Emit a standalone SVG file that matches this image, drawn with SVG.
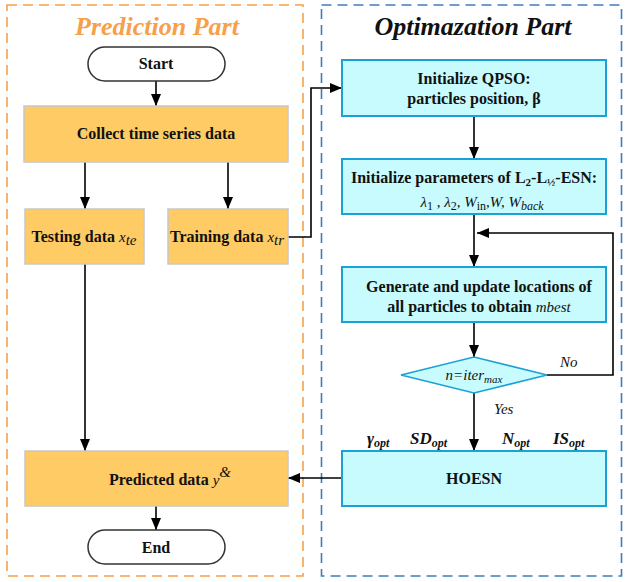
<svg xmlns="http://www.w3.org/2000/svg" width="627" height="582" viewBox="0 0 627 582">
  <defs>
    <marker id="arrow" viewBox="0 0 12 10" refX="12" refY="5" markerWidth="12" markerHeight="10" markerUnits="userSpaceOnUse" orient="auto">
      <path d="M0,0 L12,5 L0,10 Z" fill="#000"/>
    </marker>
    <style>
      .t { font-family: "Liberation Serif", "Times New Roman", serif; font-size: 16px; font-weight: bold; fill: #111; text-anchor: middle; }
      .m { font-family: "Liberation Serif", "Times New Roman", serif; font-size: 15px; font-style: italic; font-weight: normal; fill: #111; }
      .mb { font-family: "Liberation Serif", "Times New Roman", serif; font-size: 17px; font-style: italic; font-weight: bold; fill: #111; }
      .title { font-family: "Liberation Serif", "Times New Roman", serif; font-size: 26px; font-weight: bold; font-style: italic; text-anchor: middle; }
      .term { fill: #fff; stroke: #333; stroke-width: 1.5; }
      .orange { fill: #FECB65; stroke: #C8C8C8; stroke-width: 1.5; }
      .cyan { fill: #C8FBFD; stroke: #1BA1D4; stroke-width: 2; }
      .edge { fill: none; stroke: #000; stroke-width: 1.6; }
    </style>
  </defs>

  <!-- section frames -->
  <g id="frames">
    <rect x="7" y="5" width="296" height="571" fill="none" stroke="#F7A04A" stroke-width="1.6" stroke-dasharray="10 6"/>
    <rect x="321.5" y="5" width="300" height="571" fill="none" stroke="#3D7DBD" stroke-width="1.6" stroke-dasharray="10 6"/>
    <text class="title" x="157" y="35" fill="#F7A04A">Prediction Part</text>
    <text class="title" x="473" y="35" fill="#111">Optimazation Part</text>
  </g>

  <!-- connectors -->
  <g id="connectors">
    <line class="edge" x1="156" y1="81" x2="156" y2="106" marker-end="url(#arrow)"/>
    <line class="edge" x1="85" y1="162" x2="85" y2="209" marker-end="url(#arrow)"/>
    <line class="edge" x1="228" y1="162" x2="228" y2="209" marker-end="url(#arrow)"/>
    <polyline class="edge" points="288,237 311,237 311,88 342,88" marker-end="url(#arrow)"/>
    <line class="edge" x1="474" y1="116" x2="474" y2="159" marker-end="url(#arrow)"/>
    <line class="edge" x1="474" y1="214" x2="474" y2="267" marker-end="url(#arrow)"/>
    <line class="edge" x1="474" y1="322" x2="474" y2="357" marker-end="url(#arrow)"/>
    <polyline class="edge" points="547,375 613,375 613,233 477,233" marker-end="url(#arrow)"/>
    <line class="edge" x1="474" y1="393" x2="474" y2="451" marker-end="url(#arrow)"/>
    <line class="edge" x1="342" y1="478" x2="288" y2="478" marker-end="url(#arrow)"/>
    <line class="edge" x1="85" y1="264" x2="85" y2="451" marker-end="url(#arrow)"/>
    <line class="edge" x1="156" y1="506" x2="156" y2="530" marker-end="url(#arrow)"/>
    <text class="m" x="560" y="367" font-size="16">No</text>
    <text class="m" x="494" y="414" font-size="16">Yes</text>
  </g>

  <g id="start">
    <rect class="term" x="88" y="47" width="137" height="34" rx="17"/>
    <text class="t" x="156" y="69">Start</text>
  </g>

  <g id="collect">
    <rect class="orange" x="24" y="106" width="264" height="56"/>
    <text class="t" x="156" y="139">Collect time series data</text>
  </g>

  <g id="testing">
    <rect class="orange" x="25" y="209" width="119" height="55"/>
    <text class="t" x="84" y="242">Testing data <tspan class="m" font-size="17">x</tspan><tspan class="m" font-size="11" dy="3">te</tspan></text>
  </g>

  <g id="training">
    <rect class="orange" x="168" y="209" width="120" height="55"/>
    <text class="t" x="227" y="242">Training data <tspan class="m" font-size="17">x</tspan><tspan class="m" font-size="11" dy="3">tr</tspan></text>
  </g>

  <g id="predicted">
    <rect class="orange" x="25" y="451" width="263" height="55"/>
    <text class="t" x="170" y="485">Predicted data <tspan class="m" font-size="18">y</tspan><tspan class="m" font-size="11" dy="-8">&amp;</tspan></text>
  </g>

  <g id="end">
    <rect class="term" x="88" y="530" width="137" height="34" rx="17"/>
    <text class="t" x="156" y="553">End</text>
  </g>

  <g id="init-qpso">
    <rect class="cyan" x="342" y="60" width="264" height="56"/>
    <text class="t" x="474" y="84">Initialize QPSO:</text>
    <text class="t" x="474" y="104">particles position, β</text>
  </g>

  <g id="init-params">
    <rect class="cyan" x="342" y="159" width="264" height="55"/>
    <text class="t" x="474" y="183">Initialize parameters of L<tspan font-size="11" dy="3">2</tspan><tspan dy="-3">-L</tspan><tspan font-size="11" dy="3">½</tspan><tspan dy="-3">-ESN:</tspan></text>
    <text class="m" x="482" y="207" text-anchor="middle" font-size="18">λ<tspan font-style="normal" font-size="12" dy="3">1</tspan><tspan dy="-3"> , λ</tspan><tspan font-style="normal" font-size="12" dy="3">2</tspan><tspan dy="-3">, W</tspan><tspan font-style="normal" font-size="12" dy="3">in</tspan><tspan dy="-3">,W, W</tspan><tspan font-size="12" dy="3">back</tspan></text>
  </g>

  <g id="update">
    <rect class="cyan" x="342" y="267" width="264" height="55"/>
    <text class="t" x="479" y="292">Generate and update locations of</text>
    <text class="t" x="479" y="312">all particles to obtain <tspan class="m" font-size="16">mbest</tspan></text>
  </g>

  <g id="check">
    <polygon points="401,375 474,357 547,375 474,393" fill="#C8FBFD" stroke="#1BA1D4" stroke-width="1.5"/>
    <text class="m" x="474" y="380" text-anchor="middle" font-size="16">n=iter<tspan font-size="11" dy="3">max</tspan></text>
  </g>

  <g id="hoesn">
    <text class="mb" x="367" y="444" font-size="16">γ<tspan font-size="12" dy="3">opt</tspan></text>
    <text class="mb" x="410" y="444">SD<tspan font-size="12" dy="3">opt</tspan></text>
    <text class="mb" x="502" y="444">N<tspan font-size="12" dy="3">opt</tspan></text>
    <text class="mb" x="553" y="444">IS<tspan font-size="12" dy="3">opt</tspan></text>
    <rect class="cyan" x="342" y="451" width="264" height="55"/>
    <text class="t" x="474" y="484">HOESN</text>
  </g>
</svg>
